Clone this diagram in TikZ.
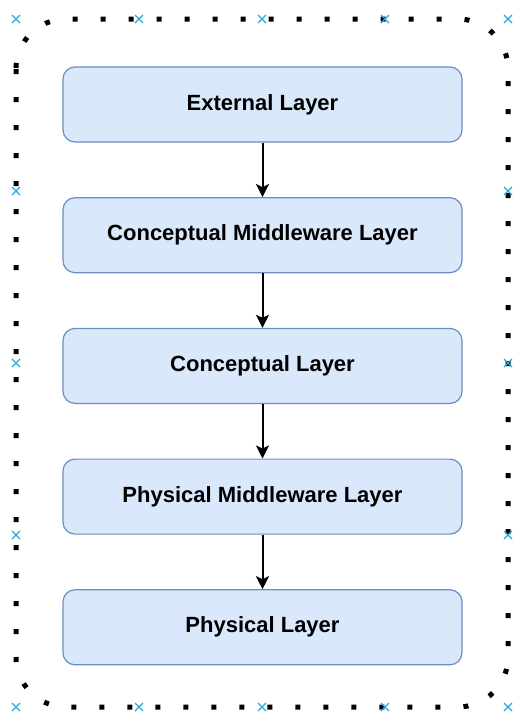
\documentclass[tikz,border=0pt]{standalone}
\usepackage{fontspec}
\setmainfont{Liberation Sans}
\usetikzlibrary{positioning,arrows.meta}

\definecolor{layerfill}{HTML}{DAE8FC}
\definecolor{layerdraw}{HTML}{6C8EBF}
\definecolor{handleblue}{HTML}{29A8E0}

\begin{document}
\begin{tikzpicture}[
        x=1pt, y=-1pt,
        layer/.style={draw=layerdraw, fill=layerfill, line width=1.2pt, rounded corners=12pt,
          minimum width=399pt, minimum height=75pt, font=\fontsize{22}{22}\selectfont\bfseries},
        link/.style={-{Stealth[length=13pt,width=13pt,inset=3pt]}, line width=2pt},
        frame/.style={line width=5pt, dash pattern=on 5pt off 23pt, rounded corners=50pt},
        handle/.style={draw=handleblue, line width=1.2pt}
      ]
      \useasboundingbox (0,0) rectangle (513,713);

      % dotted group frame with its selection handles
      \draw[frame] (16,19) rectangle (508,707);
      \foreach \x in {16,139,262,385,508} {
        \draw[handle] (\x,19) +(-4,-4) -- +(4,4) +(-4,4) -- +(4,-4);
        \draw[handle] (\x,707) +(-4,-4) -- +(4,4) +(-4,4) -- +(4,-4);
      }
      \foreach \y in {191,363,535} {
        \draw[handle] (16,\y) +(-4,-4) -- +(4,4) +(-4,4) -- +(4,-4);
        \draw[handle] (508,\y) +(-4,-4) -- +(4,4) +(-4,4) -- +(4,-4);
      }

      \node (ext) [layer] at (262.5,104.5) {External Layer};
      \node (cml) [node distance=54.5pt, below=of ext, layer] {Conceptual Middleware Layer};
      \node (con) [node distance=54.5pt, below=of cml, layer] {Conceptual Layer};
      \node (pml) [node distance=54.5pt, below=of con, layer] {Physical Middleware Layer};
      \node (phy) [node distance=54.5pt, below=of pml, layer] {Physical Layer};

      \draw[link] (ext) -- (cml);
      \draw[link] (cml) -- (con);
      \draw[link] (con) -- (pml);
      \draw[link] (pml) -- (phy);

    \end{tikzpicture}
\end{document}
